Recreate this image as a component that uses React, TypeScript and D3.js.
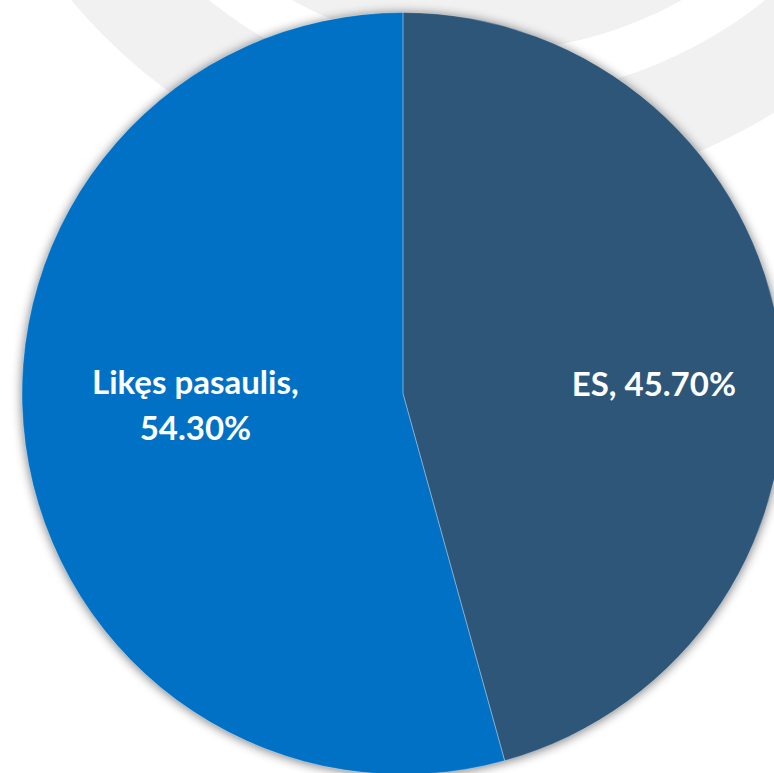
import React from "react";
import * as d3 from "d3";

// ---- data ----
const categories: string[] = ["ES", "Likęs pasaulis"];
const values: number[] = [45.7, 54.3];
const colors: string[] = ["#2D5779", "#0071C5"];
const wrapAfterComma: boolean[] = [false, true];

// ---- layout ----
const W = 774;
const H = 773;
const CX = 403;
const CY = 393.5;
const R = 381;
const labelRadius = [251, 208];
const labelRotateDeg = [5.6, 4.4];
const FONT_SIZE = 33;
const LINE_H = 46;
const CAP = 0.7 * FONT_SIZE;

// decorative background rings
const bgCenter = { x: 487, y: -346 };
const bgGray = "#f1f1f1";

const fmt = d3.format(".2f");

export default function App() {
  const pie = d3
    .pie<number>()
    .sort(null)
    .value((d) => d)
    .startAngle(0)
    .endAngle(2 * Math.PI);
  const arcs = pie(values);
  const arcGen = d3.arc<d3.PieArcDatum<number>>().innerRadius(0).outerRadius(R);

  const ringOuter = d3.arc()({ innerRadius: 444, outerRadius: 541, startAngle: 0, endAngle: 2 * Math.PI }) as string;
  const diskInner = d3.arc()({ innerRadius: 0, outerRadius: 397, startAngle: 0, endAngle: 2 * Math.PI }) as string;

  return (
    <div style={{ position: "fixed", left: 0, top: 0, width: W, height: H, background: "#fff" }}>
      <svg width={W} height={H} viewBox={`0 0 ${W} ${H}`} style={{ display: "block" }}>
        <defs>
          <filter id="pieShadow" x="-10%" y="-10%" width="120%" height="120%">
            <feGaussianBlur in="SourceAlpha" stdDeviation="5.5" />
            <feOffset dx="0" dy="1" result="blur" />
            <feComponentTransfer>
              <feFuncA type="linear" slope="0.55" />
            </feComponentTransfer>
            <feMerge>
              <feMergeNode />
              <feMergeNode in="SourceGraphic" />
            </feMerge>
          </filter>
        </defs>
        <rect x={0} y={0} width={W} height={H} fill="#ffffff" />
        <g transform={`translate(${bgCenter.x},${bgCenter.y})`}>
          <path d={ringOuter} fill={bgGray} />
          <path d={diskInner} fill={bgGray} />
        </g>
        <g transform={`translate(${CX},${CY})`}>
          <g filter="url(#pieShadow)">
            {arcs.map((a, i) => (
              <path key={categories[i]} d={arcGen(a) as string} fill={colors[i]} />
            ))}
          </g>
          {arcs.map((a, i) => (
            <path
              key={"s" + categories[i]}
              d={arcGen(a) as string}
              fill="none"
              stroke="#ffffff"
              strokeOpacity={0.25}
              strokeWidth={1}
            />
          ))}
          {arcs.map((a, i) => {
            const mid = (a.startAngle + a.endAngle) / 2 + (labelRotateDeg[i] * Math.PI) / 180;
            const lx = labelRadius[i] * Math.sin(mid);
            const ly = -labelRadius[i] * Math.cos(mid);
            const pct = fmt(values[i]) + "%";
            const lines = wrapAfterComma[i] ? [categories[i] + ",", pct] : [categories[i] + ", " + pct];
            const firstBaseline = ly - ((lines.length - 1) * LINE_H) / 2 + CAP / 2;
            return (
              <text
                key={"l" + categories[i]}
                x={lx}
                y={firstBaseline}
                textAnchor="middle"
                fill="#ffffff"
                fontFamily="Lato, 'Open Sans', sans-serif"
                fontWeight={700}
                fontSize={FONT_SIZE}
              >
                {lines.map((t, j) => (
                  <tspan key={j} x={lx} dy={j === 0 ? 0 : LINE_H}>
                    {t}
                  </tspan>
                ))}
              </text>
            );
          })}
        </g>
      </svg>
    </div>
  );
}
